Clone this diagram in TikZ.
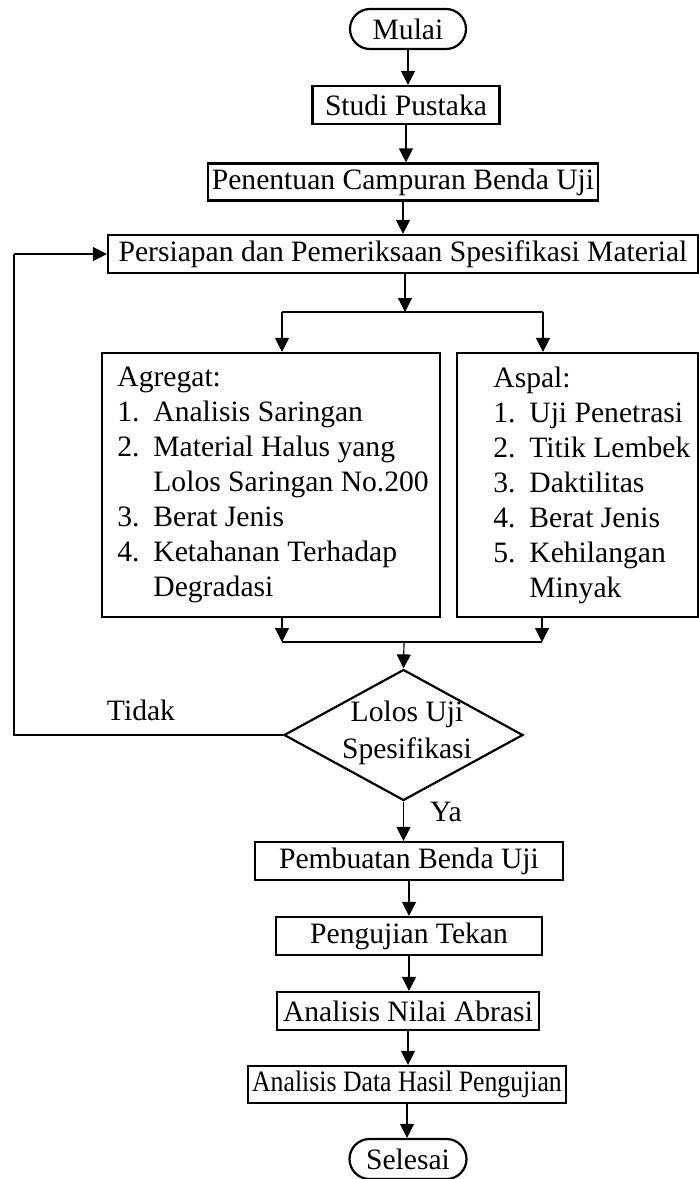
\documentclass[tikz,border=0pt]{standalone}
\usepackage{fontspec}
\setmainfont{Liberation Serif}
\usetikzlibrary{shapes.geometric,arrows.meta}
\tikzset{
  proses/.style={draw,line width=1.1pt,inner sep=0pt,minimum height=19pt,font=\fontsize{14.8}{17.5}\selectfont},
  terminal/.style={proses,minimum height=20pt,rounded corners=10pt},
  keputusan/.style={draw,diamond,line width=1.1pt,inner sep=0pt,minimum width=119.5pt,minimum height=65.5pt},
  teks/.style={inner sep=0pt,align=left,font=\fontsize{14.8}{17.5}\selectfont},
  panah/.style={line width=0.6pt,-{Triangle[length=7pt,width=7pt]}},
  garis/.style={line width=1pt}
}
\newcommand{\nomor}[1]{\makebox[18pt][l]{#1}}

\begin{document}
\begin{tikzpicture}[x=0.5pt,y=-0.5pt]
\useasboundingbox (0,0) rectangle (699,1179);

\node[terminal,minimum width=58pt] (mulai) at (408,29) {Mulai};
\node[proses,minimum width=93.5pt] (studi) at (406,105) {Studi Pustaka};
\node[proses,minimum width=195pt,minimum height=18.5pt] (campuran) at (403,182) {Penentuan Campuran Benda Uji};
\node[proses,minimum width=295pt] (persiapan) at (403,254) {Persiapan dan Pemeriksaan Spesifikasi Material};

\node[draw,line width=1.1pt,minimum width=169pt,minimum height=132pt] (agregat) at (271,485) {};
\node[teks,anchor=west] (agregattxt) at (117,485) {Agregat:\\
\nomor{1.}Analisis Saringan\\
\nomor{2.}Material Halus yang\\
\hspace*{18pt}Lolos Saringan No.200\\
\nomor{3.}Berat Jenis\\
\nomor{4.}Ketahanan Terhadap\\
\hspace*{18pt}Degradasi};

\node[draw,line width=1.1pt,minimum width=120.5pt,minimum height=132pt] (aspal) at (577.5,485) {};
\node[teks,anchor=west] (aspaltxt) at (493,485) {Aspal:\\
\nomor{1.}Uji Penetrasi\\
\nomor{2.}Titik Lembek\\
\nomor{3.}Daktilitas\\
\nomor{4.}Berat Jenis\\
\nomor{5.}Kehilangan\\
\hspace*{18pt}Minyak};

\node[keputusan] (cek) at (403.5,735) {};
\node[teks,align=center,font=\fontsize{14.8}{18.5}\selectfont] (cektxt) at (407,733) {Lolos Uji\\Spesifikasi};
\node[teks] (tidak) at (141,710) {Tidak};
\node[teks] (ya) at (446,812) {Ya};

\node[proses,minimum width=154pt] (pembuatan) at (409,861) {Pembuatan Benda Uji};
\node[proses,minimum width=133pt] (tekan) at (409,936) {Pengujian Tekan};
\node[proses,minimum width=131pt] (abrasi) at (408,1011) {Analisis Nilai Abrasi};
\node[proses,minimum width=159pt,minimum height=18.5pt] (data) at (407,1084.5) {\scalebox{0.87}[1]{Analisis Data Hasil Pengujian}};
\node[terminal,minimum width=58.5pt] (selesai) at (408,1159) {Selesai};

\coordinate (bagi) at (405,312);
\coordinate (bagikiri) at (282,312);
\coordinate (bagikanan) at (543,312);
\coordinate (gabung) at (404,642);
\coordinate (gabungkiri) at (282,642);
\coordinate (gabungkanan) at (542,642);
\coordinate (kiri) at (14,735);

\draw[panah] (mulai.south) -- (mulai.south |- studi.north);
\draw[panah] (studi.south) -- (studi.south |- campuran.north);
\draw[panah] (campuran.south) -- (campuran.south |- persiapan.north);
\draw[panah] (bagi |- persiapan.south) -- (bagi);
\draw[garis] (bagikiri) -- (bagikanan);
\draw[panah] (bagikiri) -- (bagikiri |- agregat.north);
\draw[panah] (bagikanan) -- (bagikanan |- aspal.north);

\draw[panah] (gabungkiri |- agregat.south) -- (gabungkiri);
\draw[panah] (gabungkanan |- aspal.south) -- (gabungkanan);
\draw[garis] (gabungkiri) -- (gabungkanan);
\draw[panah] (gabung) -- (cek.north);

\draw[garis] (cek.west) -- (kiri) -- (kiri |- persiapan.west);
\draw[panah] (kiri |- persiapan.west) -- (persiapan.west);

\draw[panah] (cek.south) -- (cek.south |- pembuatan.north);
\draw[panah] (pembuatan.south) -- (pembuatan.south |- tekan.north);
\draw[panah] (tekan.south) -- (tekan.south |- abrasi.north);
\draw[panah] (abrasi.south) -- (abrasi.south |- data.north);
\draw[panah] (data.south) -- (data.south |- selesai.north);
\end{tikzpicture}
\end{document}
